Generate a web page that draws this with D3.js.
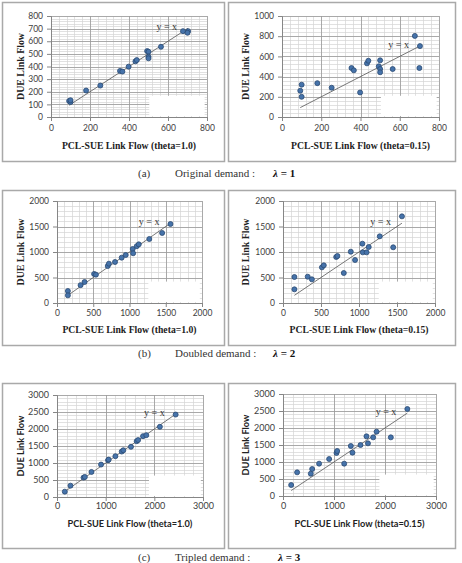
<!DOCTYPE html>
<html>
<head>
<meta charset="utf-8">
<script src="https://cdn.jsdelivr.net/npm/d3@7"></script>
<style>
  body { margin: 0; background: #fff; }
  .tick text { font-family: Lato, "Liberation Sans", sans-serif; fill: #404040; }
</style>
</head>
<body>
<svg id="chart" width="462" height="563"></svg>
<script>
// row (a): original demand, lambda = 1
let pclFlowA = [93, 100, 100, 180, 253, 354, 366, 398, 433, 440, 493, 500, 500, 500, 564, 677, 703, 700];
let dueTheta10A = [127, 118, 133, 210, 249, 365, 360, 399, 441, 451, 522, 517, 478, 465, 556, 680, 680, 667];
let dueTheta015A = [260, 320, 200, 335, 290, 485, 462, 243, 531, 557, 502, 561, 475, 443, 475, 803, 702, 485];

// row (b): doubled demand, lambda = 2
let pclFlowB = [150, 150, 325, 380, 512, 537, 700, 716, 800, 892, 948, 1044, 1050, 1100, 1128, 1273, 1450, 1565];
let dueTheta10B = [235, 150, 350, 412, 569, 556, 725, 771, 804, 889, 941, 1059, 975, 1115, 1150, 1255, 1373, 1549];
let dueTheta015B = [510, 268, 516, 464, 699, 739, 902, 922, 588, 1006, 843, 1163, 993, 993, 1098, 1307, 1092, 1699];

// row (c): tripled demand, lambda = 3
let pclFlowC = [160, 277, 545, 572, 708, 905, 1049, 1062, 1200, 1330, 1362, 1520, 1637, 1666, 1768, 1835, 2114, 2438];
let dueTheta10C = [157, 334, 570, 590, 737, 954, 1082, 1100, 1200, 1337, 1375, 1475, 1642, 1675, 1790, 1819, 2065, 2425];
let dueTheta015C = [323, 696, 657, 794, 951, 1088, 1265, 1324, 951, 1471, 1275, 1500, 1755, 1549, 1725, 1892, 1725, 2559];

let xTitles = ["PCL-SUE Link Flow (theta=1.0)", "PCL-SUE Link Flow (theta=0.15)"];
let yTitle = "DUE Link Flow";
let captionTags = ["(a)", "(b)", "(c)"];
let captionTexts = ["Original demand :", "Doubled demand :", "Tripled demand :"];
let lambdas = ["1", "2", "3"];

let serif = "'Liberation Serif', 'DejaVu Serif', serif";
let sans = "Lato, 'Liberation Sans', sans-serif";

let panels = [
  {box: [2, 2, 222, 159], plot: [51, 16, 207, 117], xMax: 800, xStep: 200, yMax: 800, yStep: 100,
   x: pclFlowA, y: dueTheta10A, title: xTitles[0], font: serif, tickY: 134, titleY: 149},
  {box: [228, 2, 227, 159], plot: [282, 16, 439, 117], xMax: 800, xStep: 200, yMax: 1000, yStep: 200,
   x: pclFlowA, y: dueTheta015A, title: xTitles[1], font: serif, tickY: 134, titleY: 149},
  {box: [2, 190, 222, 155], plot: [57, 201, 202, 303], xMax: 2000, xStep: 500, yMax: 2000, yStep: 500,
   x: pclFlowB, y: dueTheta10B, title: xTitles[0], font: serif, tickY: 319, titleY: 333},
  {box: [228, 190, 227, 155], plot: [283, 201, 435, 303], xMax: 2000, xStep: 500, yMax: 2000, yStep: 500,
   x: pclFlowB, y: dueTheta015B, title: xTitles[1], font: serif, tickY: 319, titleY: 333},
  {box: [2, 383, 222, 165], plot: [57, 395, 203, 497], xMax: 3000, xStep: 1000, yMax: 3000, yStep: 500,
   x: pclFlowC, y: dueTheta10C, title: xTitles[0], font: sans, tickY: 512, titleY: 527},
  {box: [228, 383, 227, 165], plot: [283, 394, 436, 496], xMax: 3000, xStep: 1000, yMax: 3000, yStep: 500,
   x: pclFlowC, y: dueTheta015C, title: xTitles[1], font: sans, tickY: 512, titleY: 527}
];

let svg = d3.select("#chart");
svg.append("rect").attr("width", 462).attr("height", 563).attr("fill", "#fff");

panels.forEach(function(p, i) {
  let g = svg.append("g");
  let left = p.plot[0], top = p.plot[1], right = p.plot[2], bottom = p.plot[3];

  g.append("rect")
      .attr("x", p.box[0] + 0.5).attr("y", p.box[1] + 0.5)
      .attr("width", p.box[2]).attr("height", p.box[3])
      .attr("fill", "#fff").attr("stroke", "#a9a9a9").attr("stroke-width", 1.5);

  let x = d3.scaleLinear().domain([0, p.xMax]).range([left, right]);
  let y = d3.scaleLinear().domain([0, p.yMax]).range([bottom, top]);

  // minor grid, 5 per major step
  let xMinor = d3.range(0, p.xMax + 1, p.xStep / 5);
  let yMinor = d3.range(0, p.yMax + 1, p.yStep / 5);
  g.selectAll(".vminor").data(xMinor).enter().append("line")
      .attr("x1", d => Math.round(x(d)) + 0.5).attr("x2", d => Math.round(x(d)) + 0.5)
      .attr("y1", top).attr("y2", bottom)
      .attr("stroke", "#d4d4d4").attr("stroke-width", 0.7);
  g.selectAll(".hminor").data(yMinor).enter().append("line")
      .attr("y1", d => Math.round(y(d)) + 0.5).attr("y2", d => Math.round(y(d)) + 0.5)
      .attr("x1", left).attr("x2", right)
      .attr("stroke", "#d4d4d4").attr("stroke-width", 0.7);

  let xMajor = d3.range(0, p.xMax + 1, p.xStep);
  let yMajor = d3.range(0, p.yMax + 1, p.yStep);
  g.selectAll(".vmajor").data(xMajor).enter().append("line")
      .attr("x1", d => Math.round(x(d)) + 0.5).attr("x2", d => Math.round(x(d)) + 0.5)
      .attr("y1", top).attr("y2", bottom)
      .attr("stroke", "#9a9a9a").attr("stroke-width", 0.8);
  g.selectAll(".hmajor").data(yMajor).enter().append("line")
      .attr("y1", d => Math.round(y(d)) + 0.5).attr("y2", d => Math.round(y(d)) + 0.5)
      .attr("x1", left).attr("x2", right)
      .attr("stroke", "#9a9a9a").attr("stroke-width", 0.8);

  // white patch in the lower right (pasted over the legend)
  g.append("rect")
      .attr("x", left + (right - left) * 0.63).attr("y", top + (bottom - top) * 0.79)
      .attr("width", (right - left) * 0.355).attr("height", (bottom - top) * 0.2)
      .attr("fill", "#fff");

  let fs = i >= 4 ? 9 : 8.5;
  let ax = g.append("g")
      .attr("transform", "translate(0," + bottom + ")")
      .call(d3.axisBottom(x).tickValues(xMajor).tickSize(4).tickPadding(4).tickFormat(d3.format("d")));
  ax.selectAll("text").attr("font-size", fs);
  let ay = g.append("g")
      .attr("transform", "translate(" + left + ",0)")
      .call(d3.axisLeft(y).tickValues(yMajor).tickSize(4).tickPadding(4).tickFormat(d3.format("d")));
  ay.selectAll("text").attr("font-size", fs);
  [ax, ay].forEach(function(a) {
    a.select(".domain").attr("stroke", "#868686");
    a.selectAll(".tick line").attr("stroke", "#868686");
  });
  ax.selectAll("text").attr("y", p.tickY - bottom - 3).attr("dy", null);

  // y = x reference line over the range of the data
  let ext = d3.extent(p.x);
  g.append("line")
      .attr("x1", x(ext[0])).attr("y1", y(ext[0]))
      .attr("x2", x(ext[1])).attr("y2", y(ext[1]))
      .attr("stroke", "#555").attr("stroke-width", 0.8);
  g.append("text")
      .attr("x", x(ext[1]) - 11).attr("y", y(ext[1]) + 2)
      .attr("text-anchor", "end")
      .attr("font-family", serif).attr("font-size", 10).attr("fill", "#333")
      .text("y = x");

  let pts = p.x.map((v, k) => [v, p.y[k]]);
  g.selectAll(".pt").data(pts).enter().append("circle")
      .attr("cx", d => x(d[0])).attr("cy", d => y(d[1]))
      .attr("r", 2.5)
      .attr("fill", "#4673aa").attr("stroke", "#2b4a72").attr("stroke-width", 0.8);

  g.append("text")
      .attr("x", (left + right) / 2).attr("y", p.titleY)
      .attr("text-anchor", "middle")
      .attr("font-family", p.font).attr("font-weight", "bold")
      .attr("font-size", i >= 4 ? 9.2 : 9.7).attr("fill", "#222")
      .text(p.title);
  let yx = i % 2 ? p.box[0] + 18 : p.box[0] + 19;
  g.append("text")
      .attr("transform", "translate(" + yx + "," + (top + bottom) / 2 + ") rotate(-90)")
      .attr("text-anchor", "middle").attr("dy", "0.35em")
      .attr("font-family", p.font).attr("font-weight", "bold")
      .attr("font-size", i >= 4 ? 9.2 : 9.9).attr("fill", "#222")
      .text(yTitle);
});

// captions under each row
let capY = [177, 357, 561];
capY.forEach(function(cy, r) {
  let c = svg.append("g").attr("font-family", serif).attr("font-size", 11).attr("fill", "#333");
  c.append("text").attr("x", 138).attr("y", cy).text(captionTags[r]);
  c.append("text").attr("x", 175).attr("y", cy).text(captionTexts[r]);
  let lx = r === 2 ? 278 : 273;
  let t = c.append("text").attr("x", lx).attr("y", cy).attr("font-weight", "bold").attr("fill", "#111");
  t.append("tspan").attr("font-style", "italic").text("\u03bb");
  t.append("tspan").text(" = " + lambdas[r]);
});
</script>
</body>
</html>
